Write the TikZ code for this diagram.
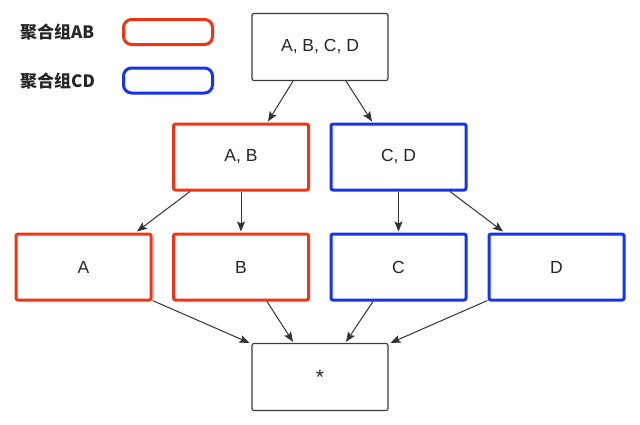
\documentclass[tikz,border=0pt]{standalone}
\usepackage{fontspec}
\setmainfont{Liberation Sans}
\newfontfamily\cjk{Noto Sans CJK SC}
\usetikzlibrary{arrows.meta,calc}
\definecolor{grpred}{RGB}{240,52,22}
\definecolor{grpblue}{RGB}{22,52,240}
\definecolor{edgegray}{RGB}{60,60,60}
\tikzset{
  plainbox/.style={draw=edgegray, line width=1.2pt, rounded corners=2pt, minimum width=136pt, minimum height=67pt, inner sep=0pt, font=\fontsize{17.5}{20}\selectfont, text=black!85},
  redbox/.style={plainbox, draw=grpred, line width=3pt, minimum width=135pt, minimum height=66pt},
  bluebox/.style={plainbox, draw=grpblue, line width=3pt, minimum width=135pt, minimum height=66pt},
  legendbox/.style={line width=3pt, rounded corners=8pt, minimum width=89pt, minimum height=25pt, inner sep=0pt},
  legendtext/.style={font=\cjk\bfseries\fontsize{17}{20}\selectfont, text=black!85, anchor=west, inner sep=0pt},
  conn/.style={draw=black!80, line width=1pt, -{Stealth[length=10pt,width=8pt,inset=2pt]}}
}
\begin{document}
\begin{tikzpicture}[x=1pt,y=-1pt]
\useasboundingbox[fill=white] (0,0) rectangle (640,424);
% legend
\node[legendtext] (lab1) at (20,32) {聚合组AB};
\node[legendtext] (lab2) at (20,81) {聚合组CD};
\node[legendbox, draw=grpred] (leg1) at (168,32) {};
\node[legendbox, draw=grpblue] (leg2) at (168,80.5) {};
% boxes
\node[plainbox] (top) at (320,47) {A, B, C, D};
\node[redbox] (AB) at (241,157) {A, B};
\node[bluebox] (CD) at (398.5,157) {C, D};
\node[redbox] (A) at (83.5,267) {A};
\node[redbox] (B) at (241,267) {B};
\node[bluebox] (C) at (398.5,267) {C};
\node[bluebox] (D) at (556.5,267) {D};
\node[plainbox] (star) at (320,377) {\raisebox{-2.5pt}{\fontsize{21}{22}\selectfont *}};
% connectors
\draw[conn] ($(top.south)+(-27,0)$) -- ($(AB.north)+(27,-1)$);
\draw[conn] ($(top.south)+(26,0)$) -- ($(CD.north)+(-26.5,-1)$);
\draw[conn] ($(AB.south)+(-51,0)$) -- ($(A.north)+(53.5,-1)$);
\draw[conn] (AB.south) -- ($(B.north)+(0,-1)$);
\draw[conn] (CD.south) -- ($(C.north)+(0,-1)$);
\draw[conn] ($(CD.south)+(51.5,0)$) -- ($(D.north)+(-53.5,-1)$);
\draw[conn] ($(A.south east)+(0,-1)$) -- ($(star.north west)+(-2,0)$);
\draw[conn] ($(B.south)+(26,0)$) -- ($(star.north)+(-27,-1)$);
\draw[conn] ($(C.south)+(-25.5,0)$) -- ($(star.north)+(26,-1)$);
\draw[conn] ($(D.south west)+(0,-1)$) -- ($(star.north east)+(2,0)$);
\end{tikzpicture}
\end{document}
